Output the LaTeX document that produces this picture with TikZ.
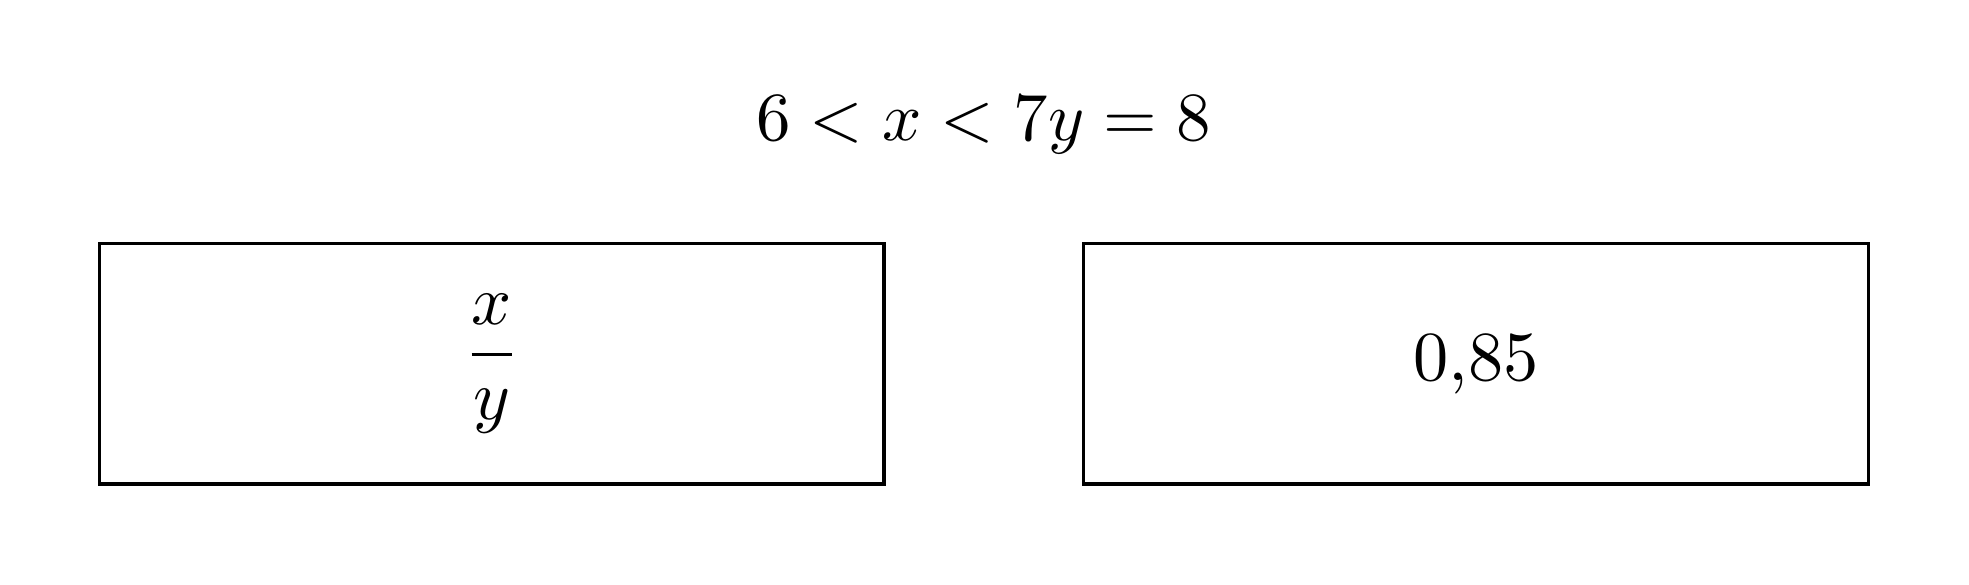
\documentclass[tikz,border=0pt]{standalone}
\usepackage{amssymb,amsmath}

\begin{document}
\begin{tikzpicture}[answerbox/.style={draw, line width=0.45pt, minimum width=3.9235cm, minimum height=1.2025cm, inner sep=0pt}]
\useasboundingbox (0,0) rectangle (9.845,2.925);
\node[scale=0.98] (cond) at (4.917,2.300){$6 < x < 7y = 8$};
\node[answerbox] (ratio) at (2.458,1.106){$\displaystyle\frac{x}{y}$};
\node[answerbox] (value) at (7.381,1.106){0,85};
\end{tikzpicture}
\end{document}
